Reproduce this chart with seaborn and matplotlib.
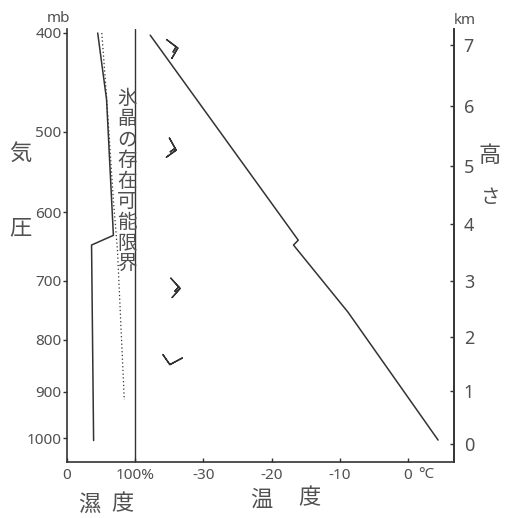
import numpy as np
import pandas as pd
import matplotlib
matplotlib.use("Agg")
import matplotlib.pyplot as plt
from matplotlib.ticker import NullLocator
import seaborn as sns

# ---------------- data ----------------
temp_p = [402, 639, 646, 752, 1004]          # mb
temp_c = [-37.8, -16.1, -16.8, -8.8, 4.4]    # deg C

hum_p = [400, 465, 632, 646, 1005]           # mb
hum_pct = [45, 58, 68, 36, 39]               # %

ice_p = [400, 462, 584, 654, 917]            # mb
ice_pct = [51, 58, 68, 74, 84]               # % (ice-crystal limit)

wind_p = [406, 507, 696, 834]                # mb
wind_pos_c = [-35.4, -35.0, -34.8, -33.1]    # horizontal position (temp units)
wind_dir = [127, 151, 138, 242]              # deg, direction wind blows from
wind_kt = [15, 15, 15, 10]

p_ticks = [400, 500, 600, 700, 800, 900, 1000]
km_ticks = [0, 1, 2, 3, 4, 5, 6, 7]
x_ticks = [-50, -40, -30, -20, -10, 0]
x_labels = ["0", "100%", "-30", "-20", "-10", "0"]

# humidity 0..100 % is drawn on the strip -50..-40 of the temperature axis
hum_x = [-50 + h / 10 for h in hum_pct]
ice_x = [-50 + h / 10 for h in ice_pct]

df_t = pd.DataFrame({"x": temp_c, "p": temp_p})
df_h = pd.DataFrame({"x": hum_x, "p": hum_p})
df_i = pd.DataFrame({"x": ice_x, "p": ice_p})

def z2p(z):
    z = np.asarray(z, dtype=float)
    return 1013.25 * (1 - 0.0065 * z * 1000 / 288.15) ** 5.2559

# ---------------- style ----------------
sns.set_style("ticks")
plt.rcParams["font.family"] = ["Noto Sans", "DejaVu Sans", "Noto Sans CJK JP"]
CJK = ["Noto Sans CJK JP", "DejaVu Sans"]
LC = "#333333"
TC = "#505050"

W, H = 513, 518
fig = plt.figure(figsize=(W / 100, H / 100), dpi=100)
ax = fig.add_axes([67 / W, 1 - 462 / H, (454 - 67) / W, (462 - 29) / H])

sns.lineplot(data=df_t, x="x", y="p", sort=False, estimator=None, ax=ax,
             color=LC, lw=1.1)
sns.lineplot(data=df_h, x="x", y="p", sort=False, estimator=None, ax=ax,
             color=LC, lw=1.1)
sns.lineplot(data=df_i, x="x", y="p", sort=False, estimator=None, ax=ax,
             color=LC, lw=0.9, linestyle=(0, (1, 2)))

ax.axvline(-40, color=LC, lw=1.0)

d = np.deg2rad(wind_dir)
u = -np.array(wind_kt) * np.sin(d)
v = -np.array(wind_kt) * np.cos(d)
ax.barbs(wind_pos_c, wind_p, u, v, length=4.5, color=LC, linewidth=1.0,
         sizes=dict(height=0.85, width=0.2, spacing=0.15))

ax.set_yscale("log")
ax.set_ylim(1055, 396.4)
ax.set_xlim(-50, 6.73)
ax.set_xlabel("")
ax.set_ylabel("")

ax.set_yticks(p_ticks)
ax.set_yticklabels([str(p) for p in p_ticks])
ax.yaxis.set_minor_locator(NullLocator())
ax.tick_params(axis="y", direction="out", length=3, width=1, colors=LC,
               labelcolor=TC, labelsize=11, pad=1)
ax.set_xticks(x_ticks)
ax.set_xticklabels(x_labels)
ax.tick_params(axis="x", direction="in", length=3, width=1, colors=LC,
               labelcolor=TC, labelsize=11, pad=4)

for s in ["left", "bottom", "right"]:
    ax.spines[s].set_color(LC)
    ax.spines[s].set_linewidth(1.2)
ax.spines["top"].set_visible(False)

ax2 = ax.twinx()
ax2.set_yscale("log")
ax2.set_ylim(ax.get_ylim())
ax2.set_yticks(z2p(km_ticks))
ax2.set_yticklabels([str(k) for k in km_ticks])
ax2.yaxis.set_minor_locator(NullLocator())
ax2.tick_params(axis="y", direction="in", length=3, width=1, colors=LC,
                labelcolor=TC, labelsize=13, pad=7)
for s in ["left", "bottom", "top"]:
    ax2.spines[s].set_visible(False)
ax2.spines["right"].set_color(LC)
ax2.spines["right"].set_linewidth(1.2)

def ftext(x, y, s, **kw):
    fig.text(x / W, 1 - y / H, s, ha="center", va="center", **kw)

ftext(58, 19, "mb", fontsize=11, color=TC)
ftext(465, 21, "km", fontsize=11, color=TC)
ftext(20, 153, "気", fontsize=16, color=TC, family=CJK)
ftext(20, 228, "圧", fontsize=16, color=TC, family=CJK)
ftext(490, 155, "高", fontsize=16, color=TC, family=CJK)
ftext(491, 198, "さ", fontsize=14, color=TC, family=CJK)
ftext(89, 504, "濕", fontsize=16, color=TC, family=CJK)
ftext(122, 504, "度", fontsize=16, color=TC, family=CJK)
ftext(261, 499, "温", fontsize=16, color=TC, family=CJK)
ftext(309, 498, "度", fontsize=16, color=TC, family=CJK)
ftext(426, 474, "°C", fontsize=11, color=TC)
ftext(127, 181, "\n".join("氷晶の存在可能限界"), fontsize=14, color=TC,
      family=CJK, linespacing=0.98)

fig.savefig("out.png", dpi=100)
